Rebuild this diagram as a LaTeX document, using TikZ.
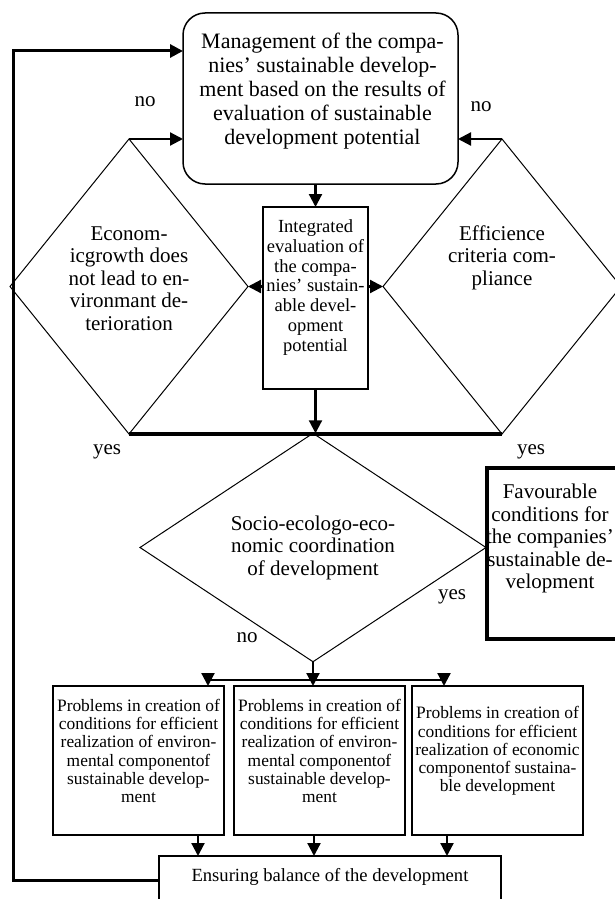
\documentclass[tikz,border=0pt]{standalone}
\usepackage{fontspec}
\setmainfont{Liberation Serif}
\usetikzlibrary{shapes.geometric, arrows.meta, positioning}

\tikzset{
  box/.style      ={draw, line width=1.5pt, inner sep=0pt, outer sep=0pt},
  boxr/.style     ={box, rounded corners=22pt},
  boxw/.style     ={box, line width=3.5pt},
  decision/.style ={diamond, draw, line width=1pt, inner sep=0pt, outer sep=0pt},
  flow/.style     ={-{Triangle[length=13pt,width=13pt]}, line width=2.2pt},
  link/.style     ={line width=3.5pt},
  txtbig/.style   ={font=\fontsize{21}{22.5}\selectfont, align=center},
  txtmid/.style   ={font=\fontsize{18.5}{19.8}\selectfont, align=center},
  txtsm/.style    ={font=\fontsize{17.4}{18.2}\selectfont, align=center},
  answer/.style   ={font=\fontsize{21}{22}\selectfont, inner sep=0pt}
}

\begin{document}
\begin{tikzpicture}[x=1pt, y=-1pt]
  \useasboundingbox (0,0) rectangle (615,899);

  % upper part
  \node[boxr, minimum width=275pt, minimum height=171pt,
        label={[txtbig, font=\fontsize{22}{24}\selectfont, xshift=2pt, yshift=7pt]center:{Management of the compa-\\nies’ sustainable develop-\\ment based on the results of\\evaluation of sustainable\\development potential}}]
        (mgmt) at (320.5,98.5) {};
  \node[box, minimum width=105pt, minimum height=182pt,
        label={[txtmid, yshift=10.5pt]center:{Integrated\\evaluation of\\the compa-\\nies’ sustain-\\able devel-\\opment\\potential}}]
        (integ) at (315.5,298) {};
  \node[decision, minimum width=238pt, minimum height=295pt,
        label={[txtbig, yshift=8pt]center:{Econom-\\icgrowth does\\not lead to en-\\vironmant de-\\terioration}}]
        (econ) at (129,286.5) {};
  \node[decision, minimum width=238pt, minimum height=295pt,
        label={[txtbig, yshift=29pt]center:{Efficience\\criteria com-\\pliance}}]
        (eff) at (502,286.5) {};

  % middle part
  \node[decision, minimum width=346pt, minimum height=181pt, txtbig]
        (socio) at (313,547.5) {Socio-ecologo-eco-\\nomic coordination\\of development};
  \node[boxw, minimum width=133pt, minimum height=171pt,
        label={[txtbig, xshift=-3.5pt, yshift=15pt]center:{Favourable\\conditions for\\the companies’\\sustainable de-\\velopment}}]
        (fav) at (553.5,553.5) {};

  % lower part
  \node[box, minimum width=171pt, minimum height=149pt,
        label={[txtsm, yshift=9.5pt]center:{Problems in creation of\\conditions for efficient\\realization of environ-\\mental componentof\\sustainable develop-\\ment}}]
        (prob1) at (138.5,760.5) {};
  \node[box, minimum width=171pt, minimum height=149pt, right=10pt of prob1,
        label={[txtsm, yshift=9.5pt]center:{Problems in creation of\\conditions for efficient\\realization of environ-\\mental componentof\\sustainable develop-\\ment}}]
        (prob2) {};
  \node[box, minimum width=171pt, minimum height=149pt, right=7pt of prob2,
        label={[txtsm, yshift=9.5pt]center:{Problems in creation of\\conditions for efficient\\realization of economic\\componentof sustaina-\\ble development}}]
        (prob3) {};
  \node[box, minimum width=342pt, minimum height=54pt,
        label={[txtsm, font=\fontsize{18.6}{19}\selectfont, yshift=6pt]center:{Ensuring balance of the development}}]
        (ens) at (330,883) {};

  % answers
  \node[answer] (no1)  at (145,102) {no};
  \node[answer] (no2)  at (481,107) {no};
  \node[answer] (yes1) at (107,452) {yes};
  \node[answer] (yes2) at (531,452) {yes};
  \node[answer] (yes3) at (452,597) {yes};
  \node[answer] (no3)  at (247,638) {no};

  % connectors
  \draw[flow] (mgmt.south -| integ.north) -- (integ.north);
  \draw[flow] (integ.west |- econ.east) -- (econ.east);
  \draw[flow] (integ.east |- eff.west) -- (eff.west);
  \draw[flow] (econ.north) -- (econ.north -| mgmt.west);
  \draw[flow] (eff.north) -- (eff.north -| mgmt.east);
  \draw[link] (econ.south) -- (eff.south);
  \draw[flow] (integ.south) -- (integ.south |- socio.north);
  \draw[line width=1pt] (socio.east) -- (socio.east -| fav.west);

  \coordinate (split) at ([yshift=-18pt]socio.south);
  \draw[line width=2.2pt] (socio.south) -- (split);
  \draw[flow] (split) -| ([xshift=69.5pt]prob1.north);
  \draw[flow] (split) -| ([xshift=-53.5pt]prob3.north);
  \draw[flow] (split) -- (split |- prob2.north);

  \draw[flow] ([xshift=59.5pt]prob1.south) -- ([xshift=59.5pt]prob1.south |- ens.north);
  \draw[flow] ([xshift=-5.5pt]prob2.south) -- ([xshift=-5.5pt]prob2.south |- ens.north);
  \draw[flow] ([xshift=-50.5pt]prob3.south) -- ([xshift=-50.5pt]prob3.south |- ens.north);

  \draw[flow, line width=3pt] ([yshift=3pt]ens.west) -- ++(-146,0) |- ([yshift=47.5pt]mgmt.west);
\end{tikzpicture}
\end{document}
